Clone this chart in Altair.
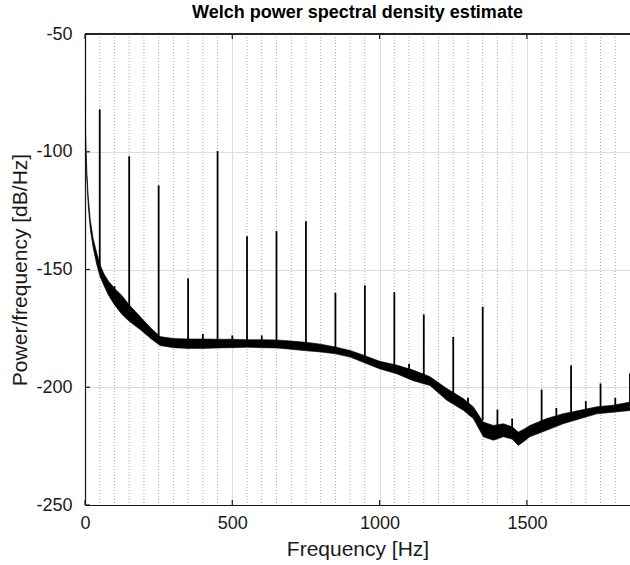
import altair as alt
import pandas as pd

# ---- noise-floor band (upper / lower envelope) ----
band_freq = [0, 1, 2, 4, 7, 11, 18, 28, 40, 51, 65, 80, 100, 125, 150, 187, 225, 255,
             300, 350, 400, 450, 500, 550, 600, 650, 700, 750, 800, 850, 900, 944,
             1001, 1058, 1114, 1171, 1228, 1284, 1318, 1352, 1386, 1420, 1450, 1471,
             1490, 1510, 1567, 1623, 1680, 1737, 1793, 1850]
band_upper = [-40, -70, -92, -101, -110, -119, -129, -137, -143, -148, -152, -155, -158,
              -161, -165, -170, -175, -178.5, -179.3, -179.5, -179.5, -179.6, -179.6, -179.8,
              -179.8, -179.9, -180.4, -180.9, -181.7, -182.9, -184.4, -186.3, -189,
              -190.6, -192.7, -195.5, -200.5, -204.8, -208.3, -214.8, -216.2, -215.5,
              -216.8, -219, -217.8, -216.2, -213.3, -211.2, -209.8, -208.3, -207.6, -206.3]
band_lower = [-48, -78, -97, -106, -114, -123, -133, -141, -148, -153, -157, -161, -165,
              -169, -172, -175.5, -179.5, -182.3, -183.2, -183.5, -183.5, -183.3, -183.2,
              -183, -183.2, -183.3, -183.9, -184.5, -185, -185.8, -187.2, -189.4,
              -192.2, -194.3, -197.2, -199.3, -205.5, -209.8, -213.3, -221, -222.5,
              -221, -222, -224.7, -223, -221, -218.3, -215.5, -213.4, -211.3,
              -210.6, -209.9]

# ---- harmonic spikes ----
spike_freq = [50, 100, 150, 250, 350, 400, 450, 500, 550, 600, 650, 750, 850, 950, 1050,
              1100, 1150, 1250, 1300, 1350, 1400, 1450, 1550, 1600, 1650, 1700, 1750,
              1800, 1850]
spike_peak = [-82, -157, -101.9, -114.3, -153.8, -177.4, -99.7, -178, -135.9, -178,
              -133.7, -129.5, -159.9, -156.7, -159.6, -190, -169.1, -178.6, -204.5,
              -165.8, -209.5, -213.3, -201, -208.8, -190.8, -205.9, -198.4, -204.5, -194.2]
spike_base = [-150, -162, -170, -180, -181, -181, -181, -181, -181, -181, -181.5, -182.5,
              -184, -188, -192, -194, -197, -205, -207, -214, -218, -219, -216, -214,
              -212, -211, -210, -209, -208]

# ---- axes ----
x_major = [0, 500, 1000, 1500]
y_major = [-50, -100, -150, -200, -250]
x_minor = [50, 100, 150, 200, 250, 300, 350, 400, 450, 550, 600, 650, 700, 750, 800, 850,
           900, 950, 1050, 1100, 1150, 1200, 1250, 1300, 1350, 1400, 1450, 1550, 1600,
           1650, 1700, 1750, 1800]

W, H = 545, 471
FONT = "Liberation Sans"
DARK = "#1a1a1a"
GRID = "#dedede"

xscale = alt.Scale(domain=[0, 1850], nice=False, zero=False)
yscale = alt.Scale(domain=[-250, -50], nice=False, zero=False)

xaxis = alt.Axis(values=x_major, grid=True, gridColor=GRID, gridWidth=1.2,
                 ticks=False, domainColor=DARK, domainWidth=1.2,
                 labelFont=FONT, labelFontSize=18, labelColor=DARK,
                 labelPadding=9, labelFlush=False, labelExpr="'' + datum.value",
                 title="Frequency [Hz]", titleFont=FONT, titleFontSize=21,
                 titleFontWeight="normal", titleColor=DARK, titlePadding=6)
yaxis = alt.Axis(values=y_major, grid=True, gridColor=GRID, gridWidth=1.2,
                 ticks=False, domainColor=DARK, domainWidth=1.2,
                 labelFont=FONT, labelFontSize=18, labelColor=DARK,
                 labelPadding=13, labelFlush=False, labelExpr="'' + datum.value",
                 title="Power/frequency [dB/Hz]", titleFont=FONT,
                 titleFontSize=21, titleFontWeight="normal", titleColor=DARK,
                 titlePadding=5)

band_df = pd.DataFrame({"f": band_freq, "hi": band_upper, "lo": band_lower})
spike_df = pd.DataFrame({"f": spike_freq, "peak": spike_peak, "base": spike_base})
minor_df = pd.DataFrame({"f": x_minor})
xmaj_df = pd.DataFrame({"f": x_major})
ymaj_df = pd.DataFrame({"v": y_major})

X = lambda field: alt.X(field, scale=xscale, axis=xaxis)
Y = lambda field: alt.Y(field, scale=yscale, axis=yaxis)

minor = alt.Chart(minor_df).mark_rule(
    color="#a8a8a8", strokeWidth=1, strokeDash=[1, 2]
).encode(x=X("f:Q"))

band = alt.Chart(band_df).mark_area(
    color="black", stroke="black", strokeWidth=0.6, clip=True
).encode(x=X("f:Q"), y=Y("hi:Q"), y2="lo:Q")

spikes = alt.Chart(spike_df).mark_rule(color="black", strokeWidth=1.8, clip=True).encode(
    x=X("f:Q"), y=Y("peak:Q"), y2="base:Q"
)

top_border = alt.Chart(xmaj_df).mark_rule(color=DARK, strokeWidth=1.2).encode(
    x=alt.value(0), x2=alt.value(W), y=alt.value(0)
)
xticks_bottom = alt.Chart(xmaj_df).mark_rule(color=DARK, strokeWidth=1.2).encode(
    x=X("f:Q"), y=alt.value(H), y2=alt.value(H - 5)
)
xticks_top = alt.Chart(xmaj_df).mark_rule(color=DARK, strokeWidth=1.2).encode(
    x=X("f:Q"), y=alt.value(0), y2=alt.value(5)
)
yticks = alt.Chart(ymaj_df).mark_rule(color=DARK, strokeWidth=1.2).encode(
    y=Y("v:Q"), x=alt.value(0), x2=alt.value(5)
)

chart = alt.layer(
    minor, band, spikes, top_border, xticks_bottom, xticks_top, yticks
).properties(
    width=W, height=H,
    title=alt.TitleParams("Welch power spectral density estimate", font=FONT,
                          fontSize=18, fontWeight="bold", color="black",
                          anchor="middle", offset=3),
    autosize=alt.AutoSizeParams(type="none"),
    padding={"left": 85, "top": 34, "right": 0, "bottom": 60},
).configure_view(stroke=None).configure(background="white")

chart.save("out.html", embed_options={"renderer": "svg", "actions": False})
